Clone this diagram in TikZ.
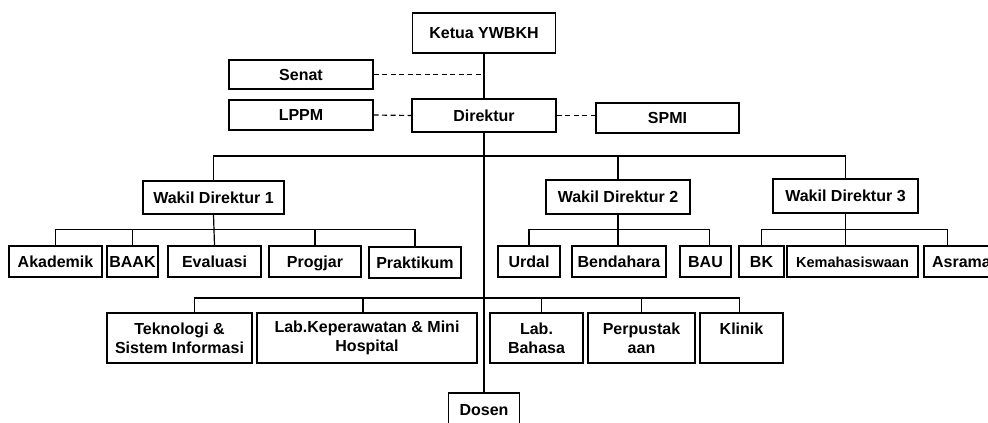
\documentclass[tikz,border=0pt]{standalone}
\usepackage{fontspec}
\setmainfont{Liberation Sans}
\usepackage{tikz}
\usetikzlibrary{positioning,calc}

\begin{document}
\begin{tikzpicture}[
      x = 1pt, y = -1pt,
      every node/.style = {draw, line width=1.2pt, inner sep=0pt, align=center,
                           font=\bfseries\fontsize{16}{19}\selectfont},
      box/.style 2 args = {minimum width=#1pt, minimum height=#2pt},
      oneline/.style = {text height=11.5pt, text depth=0.5pt},
      link/.style = {line width=1.2pt},
      staff/.style = {line width=1.2pt, dash pattern=on 5pt off 3.5pt}
    ]
    \useasboundingbox (0,0) rectangle (988,423);
    % pimpinan
    \node[box={143}{40}, oneline] (ketua) at (484,33) {Ketua YWBKH};
    \node[box={144}{29}, oneline] (senat) at (301,74.5) {Senat};
    \node[box={144}{30}, oneline] (lppm) at (301,115) {LPPM};
    \node[box={144}{33}, oneline] (direktur) at (484,115.5) {Direktur};
    \node[box={143}{30}, oneline] (spmi) at (667.5,118) {SPMI};
    % wakil direktur
    \node[box={141}{33}, oneline] (wd1) at (213.5,197.5) {Wakil Direktur 1};
    \node[box={144}{34}, oneline] (wd2) at (618,197) {Wakil Direktur 2};
    \node[box={145}{34}, oneline] (wd3) at (845.5,196) {Wakil Direktur 3};
    % unit
    \node[box={93}{31}, oneline] (akademik) at (55.5,261.5) {Akademik};
    \node[box={51}{31}, oneline] (baak) at (132.5,261.5) {BAAK};
    \node[box={93}{31}, oneline] (evaluasi) at (214.5,261.5) {Evaluasi};
    \node[box={92}{31}, oneline] (progjar) at (315,261.5) {Progjar};
    \node[box={92}{31}, oneline] (praktikum) at (415,262.5) {Praktikum};
    \node[box={62}{31}, oneline] (urdal) at (529,261.5) {Urdal};
    \node[box={94}{31}, oneline] (bendahara) at (619,261.5) {Bendahara};
    \node[box={51}{31}, oneline] (bau) at (705.5,261.5) {BAU};
    \node[box={45}{31}, oneline] (bk) at (761.5,261.5) {BK};
    \node[box={131}{31}, oneline, font=\bfseries\fontsize{14.5}{17}\selectfont] (kemahasiswaan) at (852.5,261.5) {Kemahasiswaan};
    \node[box={75}{31}, oneline] (asrama) at (961.5,261.5) {Asrama};
    % lab dan layanan
    \node[box={145}{50}] (tsi) at (179.5,338) {Teknologi \&\\Sistem Informasi};
    \node[box={220}{50}] (labkep) at (367,338) {Lab.Keperawatan \& Mini\\Hospital};
    \node[box={93}{50}] (labbhs) at (536.5,338) {Lab.\\Bahasa};
    \node[box={107}{50}] (perpus) at (641.5,338) {Perpustak\\aan};
    \node[box={83}{50}] (klinik) at (741.5,338) {Klinik\\\mbox{}};
    \node[box={71}{34}, oneline] (dosen) at (484,410) {Dosen};

    \coordinate (bus1) at (0,156);
    \coordinate (bus2) at (0,229.5);
    \coordinate (bus3) at (0,298);

    % garis komando
    \draw[link] (ketua) -- (direktur);
    \draw[link] (direktur) -- (dosen);
    \draw[link] (wd1.north) |- (wd3.north |- bus1) -- (wd3.north);
    \draw[link] (wd2.north) -- (wd2.north |- bus1);

    \draw[link] (akademik.north) |- (praktikum.north |- bus2) -- (praktikum.north);
    \draw[link] (wd1.south) -- (evaluasi.north);
    \foreach \n in {baak,progjar}
      \draw[link] (\n.north) -- (\n.north |- bus2);

    \draw[link] (urdal.north) |- ([xshift=4pt]bau.north |- bus2) -- ([xshift=4pt]bau.north);
    \draw[link] (wd2.south) -- (wd2.south |- bendahara.north);

    \draw[link] (bk.north) |- ([xshift=-14pt]asrama.north |- bus2) -- ([xshift=-14pt]asrama.north);
    \draw[link] (wd3.south) -- (wd3.south |- kemahasiswaan.north);

    \draw[link] ([xshift=15pt]tsi.north) |- ([xshift=-2pt]klinik.north |- bus3) -- ([xshift=-2pt]klinik.north);
    \draw[link] ([xshift=-4pt]labkep.north) -- ([xshift=-4pt]labkep.north |- bus3);
    \draw[link] ([xshift=5pt]labbhs.north) -- ([xshift=5pt]labbhs.north |- bus3);
    \draw[link] (perpus.north) -- (perpus.north |- bus3);

    % garis koordinasi
    \draw[staff] (senat.east) -- (senat.east -| ketua.south);
    \draw[staff] (lppm.east) -- (direktur.west);
    \draw[staff] (direktur.east) -- (direktur.east -| spmi.west);
  \end{tikzpicture}
\end{document}
